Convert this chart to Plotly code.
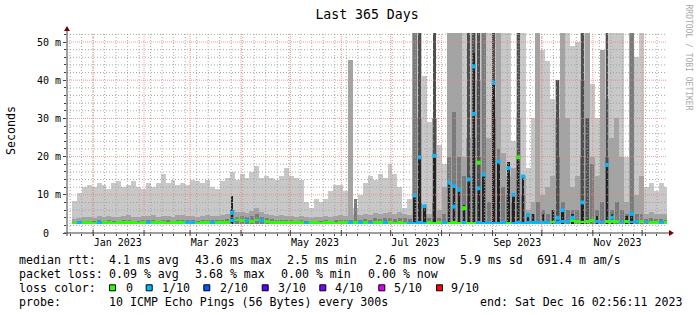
import plotly.graph_objects as go
from datetime import datetime, timedelta

# ---------------- data ----------------
START = datetime(2022, 12, 16, 2, 56, 11)
END = datetime(2023, 12, 16, 2, 56, 11)
BUCKET_DAYS = 3          # each value below summarises 3 days
SMOKE_FLOOR = 2.35       # lowest ping (ms) - bottom of the smoke

# light smoke top (ms) per bucket (55 = off the scale)
smoke_hi = [None, 8.5, 10.5, 12, 12.5, 12, 13, 12.5, 11.5, 13,
            13.5, 12, 12.5, 13.5, 12, 11.5, 13, 12, 13, 15.5,
            13, 14, 12.5, 13, 12.5, 14, 13.5, 13, 14, 12,
            11.5, 13.5, 14.5, 16, 14, 15.5, 14.5, 16, 17.5, 14.5,
            15, 14.5, 14, 15, 17, 15, 14.5, 14, 8, 6.5,
            9, 8, 9, 11, 12.5, 12.5, 11, 7, 6.5, 10,
            13, 15, 14, 15.5, 14.5, 18, 15.5, 12, 6.5, 9,
            55, 55, 41, 29, 30, 23, 18, 55, 55, 55,
            55, 55, 55, 55, 55, 55, 55, 55, 55, 55,
            24, 55, 55, 17, 30, 55, 48, 45, 35, 40,
            47, 55, 49, 50, 55, 55, 39, 30, 48, 55,
            55, 55, 55, 20, 55, 46, 55, 12, 13, 11,
            13, 12]

# medium smoke top
smoke_mid = [None, 3.6, 4, 4.2, 4.3, 4, 4.4, 4.2, 4.5, 4.3,
             4.2, 4.4, 4.6, 4.3, 4.2, 4.5, 4.4, 4.6, 4.3, 4.5,
             4.4, 4.2, 4.6, 4.8, 4.5, 4.4, 4.3, 4.5, 4.6, 4.4,
             4.5, 4.6, 5, 6, 5.5, 5.5, 5.2, 5.8, 6.5, 5.4,
             5, 4.8, 4.5, 4.6, 4.4, 4.5, 4.3, 4.4, 4.2, 4,
             4.3, 4.1, 4.4, 4.2, 4.5, 4.6, 4.4, 45.2, 4.6, 4.8,
             5, 4.8, 5.2, 5, 5.2, 5.4, 5, 5.5, 5, 4.8,
             55, 30, 7.4, 5, 30, 6, 12, 55, 55, 55,
             20, 25, 55, 40, 55, 25, 35, 55, 21, 15,
             17, 30, 15, 6, 8, 55, 10, 12, 15, 30,
             55, 30, 12, 15, 40, 55, 20, 15, 48, 35,
             25, 30, 20, 8, 55, 10, 15, 5, 5.5, 5,
             5, 5]

# dark smoke top
smoke_dark = [None, 3, 3.1, 3.2, 3.2, 3.1, 3.3, 3.2, 3.3, 3.2,
              3.2, 3.3, 3.4, 3.2, 3.2, 3.3, 3.3, 3.4, 3.2, 3.3,
              3.3, 3.2, 3.4, 3.5, 3.3, 3.3, 3.2, 3.3, 3.4, 3.3,
              3.3, 3.4, 3.6, 6, 4.2, 4.4, 4.2, 4.5, 5, 4.3,
              3.8, 3.6, 3.4, 3.5, 3.3, 3.4, 3.2, 3.3, 3.2, 3.1,
              3.2, 3.1, 3.3, 3.2, 3.4, 3.4, 3.3, 3.4, 9, 3.5,
              3.6, 3.5, 3.8, 3.6, 3.8, 4, 3.7, 4, 3.8, 3.6,
              55, 8, 5, 4, 8, 4, 5, 20, 31.8, 20,
              15, 15, 25, 20, 55, 8, 30, 22, 12, 10,
              8, 20, 10, 5, 5, 8, 6, 5, 6, 20,
              8, 6, 6, 6, 20, 30, 18, 6, 8, 20,
              6, 8, 6, 5, 55, 5, 5, 3.6, 3.8, 3.6,
              3.6, 3.5]

# darker smoke (sparse: bucket index -> top)
darker_bucket = [71, 74, 81, 82, 83, 86, 91, 99, 104, 105, 109]
darker_top = [55, 55, 55, 55, 55, 55, 55, 40, 55, 30, 55]

# blackest smoke (sparse)
black_bucket = [33, 70, 71, 72, 74, 77, 78, 79, 80, 81, 82, 83, 84, 86, 87, 89,
                90, 91, 92, 93, 94, 96, 98, 100, 102, 104, 107, 109, 110, 113, 114]
black_top = [9.6, 9.8, 19.8, 7, 20.2, 13.2, 12.3, 11.3, 7.4, 14, 47, 12.3, 15.3, 39.3, 18.7, 18.7,
             10, 19.8, 14.8, 4.7, 5, 5, 6, 6, 5, 8, 4.5, 17.8, 5, 4.5, 5]

# median rtt baseline per bucket and its loss count (of 10)
median_rtt = [None, 2.6, 2.7, 2.7, 2.7, 2.6, 2.7, 2.7, 2.7, 2.6,
              2.7, 2.7, 2.7, 2.7, 2.6, 2.7, 2.7, 2.7, 2.7, 2.7,
              2.6, 2.7, 2.7, 2.7, 2.7, 2.7, 2.6, 2.7, 2.7, 2.8,
              2.8, 2.7, 2.8, 3.3, 3.4, 3.2, 3.3, 3.1, 3.4, 3.2,
              3.0, 2.8, 2.8, 2.7, 2.7, 2.7, 2.8, 2.7, 2.6, 2.7,
              2.7, 2.6, 2.7, 2.8, 2.6, 2.7, 2.7, 2.7, 2.8, 2.7,
              2.7, 2.6, 2.7, 2.7, 2.7, 2.7, 2.6, 2.7, 2.6, 2.6,
              2.6, 2.7, 2.6, 2.7, 2.6, 2.7, 2.7, 2.6, 2.7, 2.6,
              2.7, 2.6, 2.6, 2.7, 2.6, 2.7, 2.6, 2.6, 2.7, 2.6,
              2.6, 2.7, 2.6, 2.7, 2.8, 2.7, 2.7, 2.8, 2.9, 2.8,
              3.0, 3.1, 3.2, 3.0, 2.9, 3.1, 3.2, 3.0, 2.9, 3.0,
              3.1, 3.0, 2.9, 3.0, 2.9, 3.0, 3.1, 2.9, 2.8, 2.8,
              2.7, 2.8]
median_loss = [0, 0, 1, 0, 0, 0, 1, 0, 0, 0,
               0, 0, 0, 0, 0, 0, 1, 0, 0, 0,
               0, 0, 0, 0, 1, 1, 0, 0, 0, 1,
               0, 0, 0, 1, 0, 0, 1, 0, 0, 1,
               0, 0, 0, 0, 0, 0, 0, 0, 1, 0,
               0, 0, 0, 0, 0, 0, 0, 1, 0, 1,
               0, 1, 0, 0, 1, 0, 0, 0, 0, 1,
               1, 1, 1, 0, 0, 0, 1, 0, 0, 0,
               1, 0, 0, 1, 1, 1, 1, 1, 1, 0,
               1, 1, 1, 1, 1, 1, 1, 1, 0, 1,
               1, 1, 0, 0, 0, 0, 0, 1, 1, 0,
               0, 0, 1, 0, 1, 1, 0, 1, 0, 0,
               1, 0]

# high median readings inside buckets (sparse)
spike_bucket = [33, 70, 71, 72, 74, 77, 78, 78, 79, 80, 81, 82, 82, 83, 83,
                84, 86, 87, 89, 90, 91, 92, 93, 99, 100, 102, 104, 109, 110, 114]
spike_median = [5.3, 9.8, 19.8, 7, 20.2, 13.2, 12.3, 6.9, 11.3, 6.5, 14, 43.6, 31.2, 11.7, 18.4,
                15.3, 39.3, 18.7, 17, 10, 19.8, 14.8, 4.7, 4, 6, 4, 8, 17.8, 4, 5]
spike_loss = [1, 1, 1, 1, 1, 1, 1, 1, 1, 0, 1, 1, 1, 1, 0,
              1, 1, 1, 1, 1, 0, 1, 1, 1, 1, 1, 1, 1, 1, 1]

loss_levels = [0, 1, 2, 3, 4, 5, 9]
loss_labels = ["0", "1/10", "2/10", "3/10", "4/10", "5/10", "9/10"]
loss_colors = ["#26ff00", "#00b8ff", "#0059ff", "#5e00ff", "#7e00ff", "#dd00ff", "#ff0000"]

month_label_dates = ["2023-01-16", "2023-03-16", "2023-05-16", "2023-07-16", "2023-09-16", "2023-11-16"]
month_label_text = ["Jan 2023", "Mar 2023", "May 2023", "Jul 2023", "Sep 2023", "Nov 2023"]
month_starts = ["2023-%02d-01" % m for m in range(1, 13)]
y_label_vals = [0, 10, 20, 30, 40, 50]
y_label_text = ["0\u00a0\u00a0", "10 m", "20 m", "30 m", "40 m", "50 m"]

stat_lines = [
    [(16.7, "median rtt:"), (107.3, "4.1 ms avg"), (193.3, "43.6 ms max"), (285, "2.5 ms min"),
     (373.3, "2.6 ms now"), (458.3, "5.9 ms sd"), (535, "691.4 m am/s")],
    [(16.7, "packet loss:"), (107.3, "0.09 % avg"), (193.3, "3.68 % max"), (279.3, "0.00 % min"),
     (366, "0.00 % now")],
    [(16.7, "loss color:")],
    [(16.7, "probe:"), (107.3, "10 ICMP Echo Pings (56 Bytes) every 300s"),
     (478.3, "end: Sat Dec 16 02:56:11 2023")],
]

# ---------------- figure ----------------
W, H = 697, 315
L, R, T, B = 67, 30, 33, 82
PW, PH = W - L - R, H - T - B
DAY_MS = 86400000
FONT = "DejaVu Sans Mono"


def px_x(p):
    return (p - L) / PW


def px_y(p):
    return (H - B - p) / PH


n = len(smoke_hi)
xc = [START + timedelta(days=BUCKET_DAYS * i + BUCKET_DAYS / 2) for i in range(n)]


def sparse(idx, vals):
    full = [None] * n
    for i, v in zip(idx, vals):
        full[i] = v
    return full


def smoke_layer(tops, color, width_days=BUCKET_DAYS):
    ys = [None if (t is None or t <= SMOKE_FLOOR) else t - SMOKE_FLOOR for t in tops]
    return go.Bar(x=xc, y=ys, base=SMOKE_FLOOR, width=width_days * DAY_MS,
                  marker=dict(color=color, line=dict(width=0)),
                  hoverinfo="skip", showlegend=False)


color_of = dict(zip(loss_levels, loss_colors))

fig = go.Figure()
fig.add_trace(smoke_layer(smoke_hi, "#c8c8c8"))
fig.add_trace(smoke_layer(smoke_mid, "#a4a4a4"))
fig.add_trace(smoke_layer(smoke_dark, "#7a7a7a", width_days=2.4))
fig.add_trace(smoke_layer(sparse(darker_bucket, darker_top), "#4e4e4e", width_days=1.8))
fig.add_trace(smoke_layer(sparse(black_bucket, black_top), "#222222", width_days=1.5))

# median line
fig.add_trace(go.Bar(
    x=xc, y=[None if m is None else 0.7 for m in median_rtt],
    base=[None if m is None else m - 0.35 for m in median_rtt],
    width=BUCKET_DAYS * DAY_MS,
    marker=dict(color=[color_of[l] for l in median_loss], line=dict(width=0)),
    hoverinfo="skip", showlegend=False))
fig.add_trace(go.Scatter(
    x=[xc[b] for b in spike_bucket], y=spike_median, mode="markers",
    marker=dict(symbol="square", size=4, color=[color_of[l] for l in spike_loss], line=dict(width=0)),
    hoverinfo="skip", showlegend=False, cliponaxis=True))

# grid drawn above the data (as rrdtool does)
shapes = []
GRID = "#a0a0a0"
MGRID = "#f08080"
wk = datetime(2022, 12, 18)
while wk < END:
    shapes.append(dict(type="line", xref="x", yref="paper", x0=wk, x1=wk, y0=0, y1=1,
                       line=dict(color=GRID, width=1, dash="1px,2px"), layer="above", opacity=0.9))
    wk += timedelta(days=7)
for yv in range(2, 53, 2):
    if yv % 10:
        shapes.append(dict(type="line", xref="paper", yref="y", x0=0, x1=1, y0=yv, y1=yv,
                           line=dict(color=GRID, width=1, dash="1px,2px"), layer="above", opacity=0.9))
for ms in month_starts:
    shapes.append(dict(type="line", xref="x", yref="paper", x0=ms, x1=ms, y0=0, y1=1,
                       line=dict(color=MGRID, width=1, dash="1px,1px"), layer="above", opacity=0.8))
    shapes.append(dict(type="line", xref="x", yref="paper", x0=ms, x1=ms, y0=px_y(H - B + 3), y1=px_y(H - B - 3),
                       line=dict(color="#404040", width=1), layer="above"))
for yv in y_label_vals[1:]:
    shapes.append(dict(type="line", xref="paper", yref="y", x0=0, x1=1, y0=yv, y1=yv,
                       line=dict(color=MGRID, width=1, dash="1px,1px"), layer="above", opacity=0.8))

# axes with arrows
AX = "#404040"
ARROW = "#7f0000"
shapes.append(dict(type="line", xref="paper", yref="paper", x0=0, x1=0, y0=px_y(236), y1=px_y(30),
                   line=dict(color=AX, width=1), layer="above"))
shapes.append(dict(type="line", xref="paper", yref="paper", x0=px_x(64), x1=px_x(670), y0=0, y1=0,
                   line=dict(color=AX, width=1), layer="above"))
shapes.append(dict(type="path", xref="paper", yref="paper",
                   path="M %f,%f L %f,%f L %f,%f Z" % (px_x(64), px_y(31), px_x(70), px_y(31), px_x(67), px_y(26)),
                   fillcolor=ARROW, line=dict(color=ARROW, width=0), layer="above"))
shapes.append(dict(type="path", xref="paper", yref="paper",
                   path="M %f,%f L %f,%f L %f,%f Z" % (px_x(669), px_y(230), px_x(669), px_y(236), px_x(674), px_y(233)),
                   fillcolor=ARROW, line=dict(color=ARROW, width=0), layer="above"))

# legend colour boxes
box_x = [109, 145.7, 203.3, 261.7, 319.3, 378.3, 436]
lab_x = [124, 160, 218.3, 276, 333.3, 391.7, 449.3]
line_y = [259.8, 273.8, 287.8, 301.8]
for bx, col in zip(box_x, loss_colors):
    shapes.append(dict(type="rect", xref="paper", yref="paper",
                       x0=px_x(bx + 0.5), x1=px_x(bx + 6.5), y0=px_y(line_y[2] + 3), y1=px_y(line_y[2] - 3),
                       fillcolor=col, line=dict(color="black", width=1)))

annotations = []
for ly, segs in zip(line_y, stat_lines):
    for sx, txt in segs:
        annotations.append(dict(text=txt, x=px_x(sx), y=px_y(ly), xref="paper", yref="paper",
                                xanchor="left", yanchor="middle", showarrow=False,
                                font=dict(family=FONT, size=11.6, color="black")))
for lx, txt in zip(lab_x, loss_labels):
    annotations.append(dict(text=txt, x=px_x(lx), y=px_y(line_y[2]), xref="paper", yref="paper",
                            xanchor="left", yanchor="middle", showarrow=False,
                            font=dict(family=FONT, size=11.6, color="black")))
annotations.append(dict(text="Seconds", x=px_x(11), y=px_y(131), xref="paper", yref="paper",
                        xanchor="center", yanchor="middle", textangle=-90, showarrow=False,
                        font=dict(family=FONT, size=11.6, color="black")))
annotations.append(dict(text="RRDTOOL / TOBI OETIKER", x=px_x(688.5), y=px_y(57), xref="paper", yref="paper",
                        xanchor="center", yanchor="middle", textangle=90, showarrow=False,
                        font=dict(family=FONT, size=8, color="#a8a8a8")))

fig.update_layout(
    width=W, height=H, margin=dict(l=L, r=R, t=T, b=B, autoexpand=False),
    paper_bgcolor="white", plot_bgcolor="white",
    barmode="overlay", bargap=0, showlegend=False,
    font=dict(family=FONT, size=10, color="black"),
    title=dict(text="Last 365 Days", x=0.5, xanchor="center", xref="paper",
               y=1 - 14 / H, yanchor="middle", font=dict(family=FONT, size=13.2, color="black")),
    xaxis=dict(type="date", range=[START, END], showgrid=False, zeroline=False, showline=False,
               tickmode="array", tickvals=month_label_dates, ticktext=month_label_text,
               ticks="outside", ticklen=0, tickfont=dict(family=FONT, size=10, color="black"),
               minor=dict(ticks="outside", ticklen=2, tickcolor=AX, tickwidth=1,
                          dtick=7 * DAY_MS, tick0="2022-12-18", showgrid=False),
               fixedrange=True),
    yaxis=dict(range=[0, PH / 3.82], showgrid=False, zeroline=False, showline=False,
               tickmode="array", tickvals=y_label_vals, ticktext=y_label_text,
               ticks="outside", ticklen=3, tickcolor=AX, tickwidth=1,
               tickfont=dict(family=FONT, size=10, color="black"),
               minor=dict(ticks="outside", ticklen=2, tickcolor=AX, dtick=2, tick0=0, showgrid=False),
               fixedrange=True),
    shapes=shapes, annotations=annotations,
)

fig.write_html("out.html")
